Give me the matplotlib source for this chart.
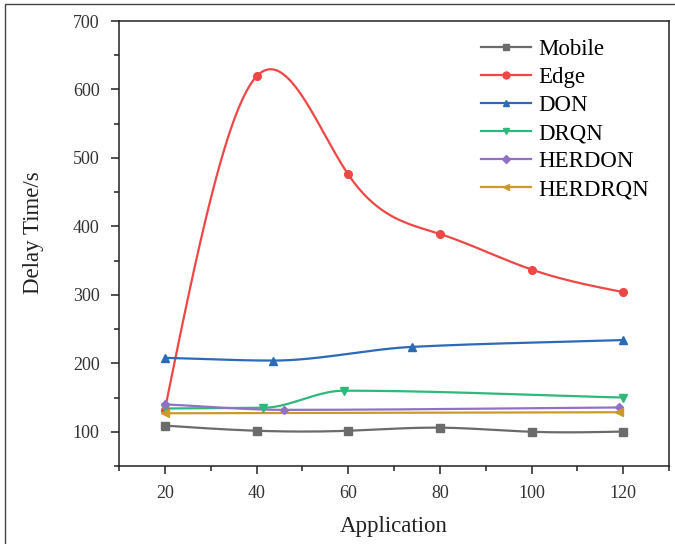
import matplotlib
matplotlib.use("Agg")
import matplotlib.pyplot as plt
from matplotlib.patches import Rectangle
from matplotlib.ticker import MultipleLocator
import numpy as np

plt.rcParams["font.family"] = ["Liberation Serif", "DejaVu Serif"]

# Delay time (s) against number of applications
mobile_x = [20, 40, 60, 80, 100, 120]
mobile_y = [109, 101.5, 101.5, 106, 100, 100.3]

edge_x = [20, 40, 60, 80, 100, 120]
edge_y = [132, 619, 476, 389, 337, 304]

don_x = [20, 43.5, 74, 120]
don_y = [208, 204, 224, 234]

drqn_x = [20, 41.5, 59, 120]
drqn_y = [134, 135, 160, 150]

herdon_x = [20, 46, 119]
herdon_y = [140, 132, 135.5]

herdrqn_x = [20, 119]
herdrqn_y = [127, 128.5]

names = ["Mobile", "Edge", "DON", "DRQN", "HERDON", "HERDRQN"]
colors = ["#6b6b6b", "#ef4646", "#2b6ab6", "#2fb87a", "#9270c6", "#cc9a2a"]
markers = ["s", "o", "^", "v", "D", "<"]
# curve type used to join the points of each series
joins = ["spline", "spline", "pchip", "pchip", "pchip", "pchip"]


def natural_spline(x, y, xs):
    """Natural cubic spline through the knots."""
    k = len(x)
    h = np.diff(x)
    A = np.zeros((k, k))
    b = np.zeros(k)
    A[0, 0] = A[-1, -1] = 1
    for i in range(1, k - 1):
        A[i, i - 1] = h[i - 1]
        A[i, i] = 2 * (h[i - 1] + h[i])
        A[i, i + 1] = h[i]
        b[i] = 6 * ((y[i + 1] - y[i]) / h[i] - (y[i] - y[i - 1]) / h[i - 1])
    m = np.linalg.solve(A, b)
    idx = np.clip(np.searchsorted(x, xs) - 1, 0, k - 2)
    x0, x1 = x[idx], x[idx + 1]
    hh = x1 - x0
    t0, t1 = x1 - xs, xs - x0
    return (m[idx] * t0 ** 3 + m[idx + 1] * t1 ** 3) / (6 * hh) \
        + (y[idx] / hh - m[idx] * hh / 6) * t0 \
        + (y[idx + 1] / hh - m[idx + 1] * hh / 6) * t1


def pchip(x, y, xs):
    """Monotone piecewise cubic (Fritsch-Carlson) through the knots."""
    h = np.diff(x)
    d = np.diff(y) / h
    k = len(x)
    m = np.zeros(k)
    m[0], m[-1] = d[0], d[-1]
    for i in range(1, k - 1):
        if d[i - 1] * d[i] > 0:
            w1 = 2 * h[i] + h[i - 1]
            w2 = h[i] + 2 * h[i - 1]
            m[i] = (w1 + w2) / (w1 / d[i - 1] + w2 / d[i])
    idx = np.clip(np.searchsorted(x, xs) - 1, 0, k - 2)
    hh = h[idx]
    t = (xs - x[idx]) / hh
    h00 = 2 * t ** 3 - 3 * t ** 2 + 1
    h10 = t ** 3 - 2 * t ** 2 + t
    h01 = -2 * t ** 3 + 3 * t ** 2
    h11 = t ** 3 - t ** 2
    return h00 * y[idx] + h10 * hh * m[idx] + h01 * y[idx + 1] + h11 * hh * m[idx + 1]


def smooth(x, y, kind, n=300):
    x = np.asarray(x, float)
    y = np.asarray(y, float)
    xs = np.linspace(x[0], x[-1], n)
    if len(x) < 3:
        return xs, np.interp(xs, x, y)
    if kind == "spline":
        return xs, natural_spline(x, y, xs)
    return xs, pchip(x, y, xs)


fig = plt.figure(figsize=(6.75, 5.44), dpi=100)
ax = fig.add_axes([119 / 675, 1 - 466 / 544, 550 / 675, 445 / 544])

series = [(mobile_x, mobile_y), (edge_x, edge_y), (don_x, don_y),
          (drqn_x, drqn_y), (herdon_x, herdon_y), (herdrqn_x, herdrqn_y)]

for (xv, yv), name, c, mk, kind in zip(series, names, colors, markers, joins):
    xs, ys = smooth(xv, yv, kind)
    ms = 4.5 if mk == "D" else 5.5
    ax.plot(xs, ys, color=c, lw=1.6, zorder=2)
    ax.plot(xv, yv, ls="none", marker=mk, color=c, ms=ms, zorder=3)
    ax.plot([], [], color=c, lw=1.6, marker=mk, ms=ms - 0.5, label=name)

ax.set_xlim(10, 130)
ax.set_ylim(50, 700)
ax.xaxis.set_minor_locator(MultipleLocator(10))
ax.yaxis.set_minor_locator(MultipleLocator(50))
ax.set_xticks([20, 40, 60, 80, 100, 120])
ax.set_yticks([100, 200, 300, 400, 500, 600, 700])

ax.tick_params(which="both", direction="out", top=False, right=False,
               width=1.1, colors="#222222", labelcolor="#333333")
ax.tick_params(which="major", length=6, labelsize=13, pad=8)
ax.tick_params(which="minor", length=3.5)
for s in ax.spines.values():
    s.set_linewidth(1.1)
    s.set_color("#222222")

ax.set_xlabel("Application", fontsize=16.5, labelpad=10, color="#222222")
ax.set_ylabel("Delay Time/s", fontsize=16.5, color="#222222")
ax.yaxis.set_label_coords(-0.137, 0.525)

ax.legend(loc="upper left", bbox_to_anchor=(0.645, 0.974), frameon=False,
          fontsize=16.5, handlelength=2.2, handletextpad=0.3,
          labelspacing=0.3, borderaxespad=0.0, borderpad=0.3)

# thin frame around the figure
fig.patches.append(Rectangle((5 / 675, -0.1), 1.2, 1.1 - 4 / 544,
                             transform=fig.transFigure, fill=False,
                             lw=1.0, ec="#444444"))

fig.savefig("out.png", dpi=100)
